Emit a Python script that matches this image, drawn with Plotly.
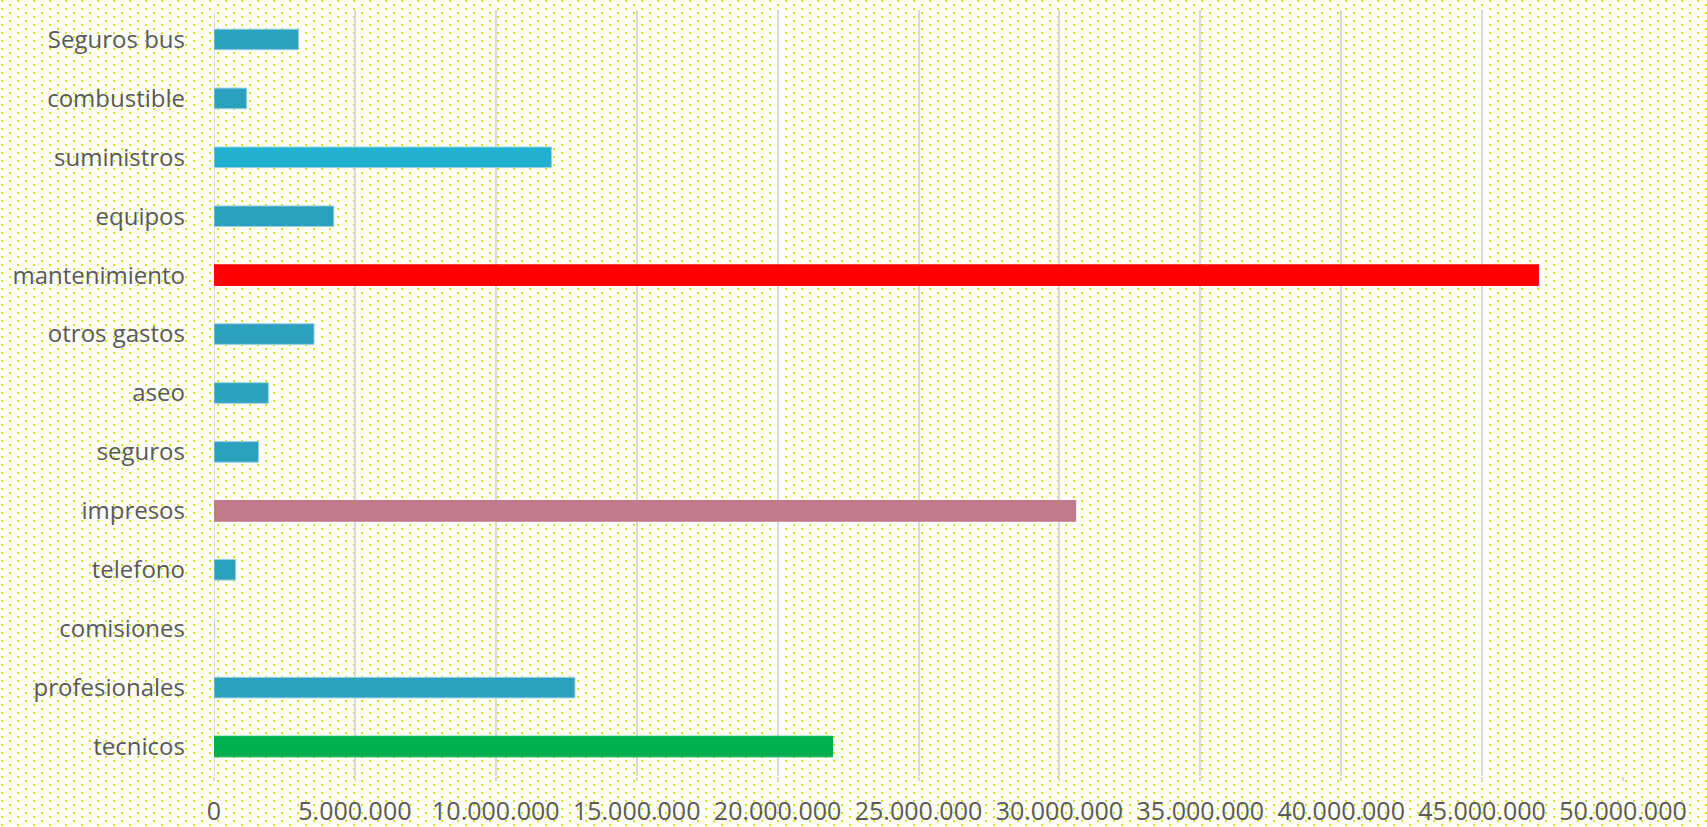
import base64
import plotly.graph_objects as go

categorias = ["Seguros bus", "combustible", "suministros", "equipos", "mantenimiento",
              "otros gastos", "aseo", "seguros", "impresos", "telefono", "comisiones",
              "profesionales", "tecnicos"]
valores = [3000000, 1160000, 11980000, 4250000, 47000000, 3550000, 1930000, 1580000,
           30580000, 770000, 0, 12810000, 21950000]
colores = ["#2ca1be", "#2ca1be", "#21b0d0", "#2ca1be", "#ff0000", "#2ca1be", "#2ca1be",
           "#2ca1be", "#c07a89", "#2ca1be", "#2ca1be", "#2ca1be", "#00b050"]
bordes = ["#9ad3e3" if c in ("#2ca1be", "#21b0d0") else c for c in colores]
ticks_x = [0, 5000000, 10000000, 15000000, 20000000, 25000000, 30000000, 35000000,
           40000000, 45000000, 50000000]

W, H = 1707, 827
L, R, T, B = 214, 84, 10, 51
PW, PH = W - L - R, H - T - B

svg = f'''<svg xmlns="http://www.w3.org/2000/svg" width="{W}" height="{H}">
<defs><pattern id="p" width="16" height="8" patternUnits="userSpaceOnUse">
<rect x="1" y="0" width="2" height="2" fill="#d9e300"/>
<rect x="9" y="4" width="2" height="2" fill="#d9e300"/>
</pattern></defs>
<rect width="100%" height="100%" fill="#ffffff"/>
<rect width="100%" height="100%" fill="url(#p)"/>
</svg>'''
src = "data:image/svg+xml;base64," + base64.b64encode(svg.encode()).decode()

fig = go.Figure(go.Bar(
    x=valores, y=categorias, orientation="h", width=0.35,
    marker=dict(color=colores, line=dict(color=bordes, width=1)),
))

fig.update_layout(
    width=W, height=H,
    margin=dict(l=L, r=R, t=T, b=B, autoexpand=False),
    paper_bgcolor="white", plot_bgcolor="rgba(0,0,0,0)",
    separators=",.",
    showlegend=False,
    font=dict(family="Open Sans", color="#595959"),
    images=[dict(source=src, xref="paper", yref="paper",
                 x=-L / PW, y=1 + T / PH, sizex=W / PW, sizey=H / PH,
                 xanchor="left", yanchor="top", sizing="stretch", layer="below")],
    xaxis=dict(range=[0, 50000000], tickvals=ticks_x, tickformat=",d",
               automargin=False,
               showgrid=True, gridcolor="#d9d9d9", gridwidth=1.5,
               zeroline=False, showline=False,
               ticks="outside", ticklen=4, tickcolor="#d9d9d9", tickwidth=1.5,
               ticklabelstandoff=9,
               tickfont=dict(size=25, color="#595959")),
    yaxis=dict(autorange="reversed", showgrid=False, zeroline=False,
               automargin=False,
               showline=False, ticks="", ticklabelstandoff=28,
               tickfont=dict(size=24, color="#595959")),
    shapes=[dict(type="line", xref="x", yref="paper", x0=0, x1=0, y0=0, y1=1,
                 line=dict(color="#d9d9d9", width=1.5), layer="below")],
)

fig.write_html("out.html", config={"displayModeBar": False},
               post_script="document.body.style.margin='0';document.body.style.overflow='hidden';")
